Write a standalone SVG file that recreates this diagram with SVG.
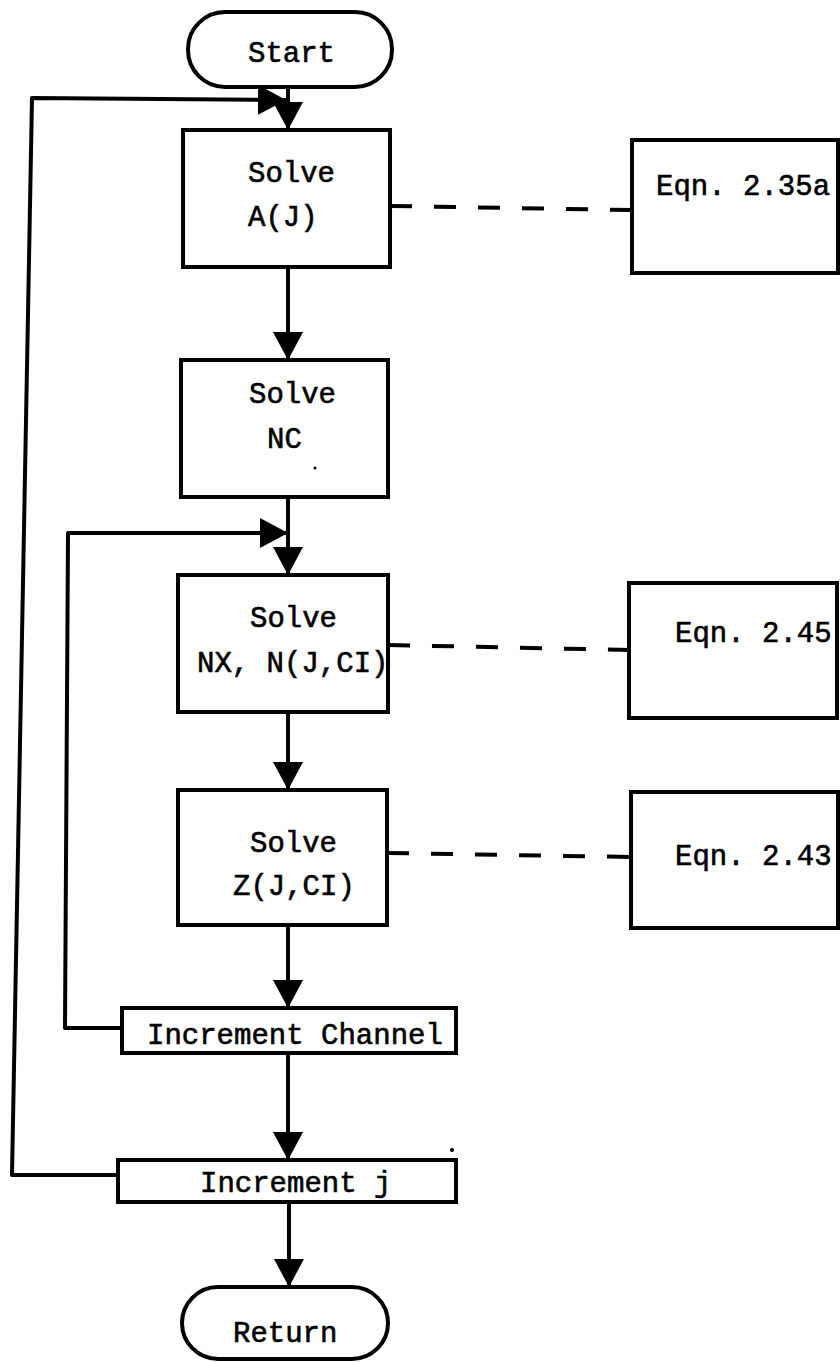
<svg xmlns="http://www.w3.org/2000/svg" width="840" height="1362" viewBox="0 0 840 1362">
<style>
.box{fill:#fff;stroke:#000;stroke-width:4}
.ln{fill:none;stroke:#000;stroke-width:4;stroke-linejoin:round}
.dash{fill:none;stroke:#000;stroke-width:4;stroke-dasharray:22 22}
.t{font-family:"Liberation Mono","DejaVu Sans Mono",monospace;font-size:29px;fill:#000;stroke:#000;stroke-width:0.6}
</style>
<defs>
<marker id="ah" viewBox="0 0 28 30" refX="28" refY="15" markerWidth="28" markerHeight="30" markerUnits="userSpaceOnUse" orient="auto">
<path d="M0,0 L28,15 L0,30 z" fill="#000"/>
</marker>
</defs>
<rect width="840" height="1362" fill="#fff"/>
<g id="connectors">
<path class="ln" d="M288,87 V130" marker-end="url(#ah)"/>
<path class="ln" d="M288,267 V360" marker-end="url(#ah)"/>
<path class="ln" d="M288,497 V575" marker-end="url(#ah)"/>
<path class="ln" d="M288,712 V790" marker-end="url(#ah)"/>
<path class="ln" d="M288,925 V1008" marker-end="url(#ah)"/>
<path class="ln" d="M288,1053 V1160" marker-end="url(#ah)"/>
<path class="ln" d="M289,1202 V1287" marker-end="url(#ah)"/>
<path class="ln" d="M118,1175 L12,1175 L32,98 L286,100" marker-end="url(#ah)"/>
<path class="ln" d="M122,1028 L65,1028 L68,533 L288,533" marker-end="url(#ah)"/>
<path class="dash" d="M390,206 L632,210"/>
<path class="dash" d="M388,645 L629,650"/>
<path class="dash" d="M387,853 L631,857"/>
</g>
<g id="start">
<rect class="box" x="188" y="12" width="204" height="75" rx="37" ry="37"/>
<text class="t" x="248" y="62">Start</text>
</g>
<g id="solveA">
<rect class="box" x="183" y="130" width="207" height="137"/>
<text class="t" x="248" y="182">Solve</text>
<text class="t" x="248" y="226">A(J)</text>
</g>
<g id="eqn235a">
<rect class="box" x="632" y="140" width="206" height="133"/>
<text class="t" x="656" y="195">Eqn. 2.35a</text>
</g>
<g id="solveNC">
<rect class="box" x="181" y="360" width="207" height="137"/>
<text class="t" x="249" y="403">Solve</text>
<text class="t" x="267" y="448">NC</text>
<circle cx="315" cy="468" r="1.5" fill="#000"/>
</g>
<g id="solveNX">
<rect class="box" x="178" y="575" width="210" height="137"/>
<text class="t" x="250" y="627">Solve</text>
<text class="t" x="197" y="672">NX, N(J,CI)</text>
</g>
<g id="eqn245">
<rect class="box" x="629" y="583" width="208" height="135"/>
<text class="t" x="675" y="642">Eqn. 2.45</text>
</g>
<g id="solveZ">
<rect class="box" x="178" y="790" width="209" height="135"/>
<text class="t" x="250" y="852">Solve</text>
<text class="t" x="233" y="895">Z(J,CI)</text>
</g>
<g id="eqn243">
<rect class="box" x="631" y="792" width="207" height="136"/>
<text class="t" x="675" y="865">Eqn. 2.43</text>
</g>
<g id="incChannel">
<rect class="box" x="122" y="1008" width="334" height="45"/>
<text class="t" x="147" y="1044">Increment Channel</text>
</g>
<g id="incJ">
<rect class="box" x="118" y="1160" width="338" height="42"/>
<text class="t" x="200" y="1192">Increment j</text>
<circle cx="452" cy="1150" r="2" fill="#000"/>
</g>
<g id="return">
<rect class="box" x="182" y="1287" width="206" height="72" rx="36" ry="36"/>
<text class="t" x="233" y="1342">Return</text>
</g>
</svg>
